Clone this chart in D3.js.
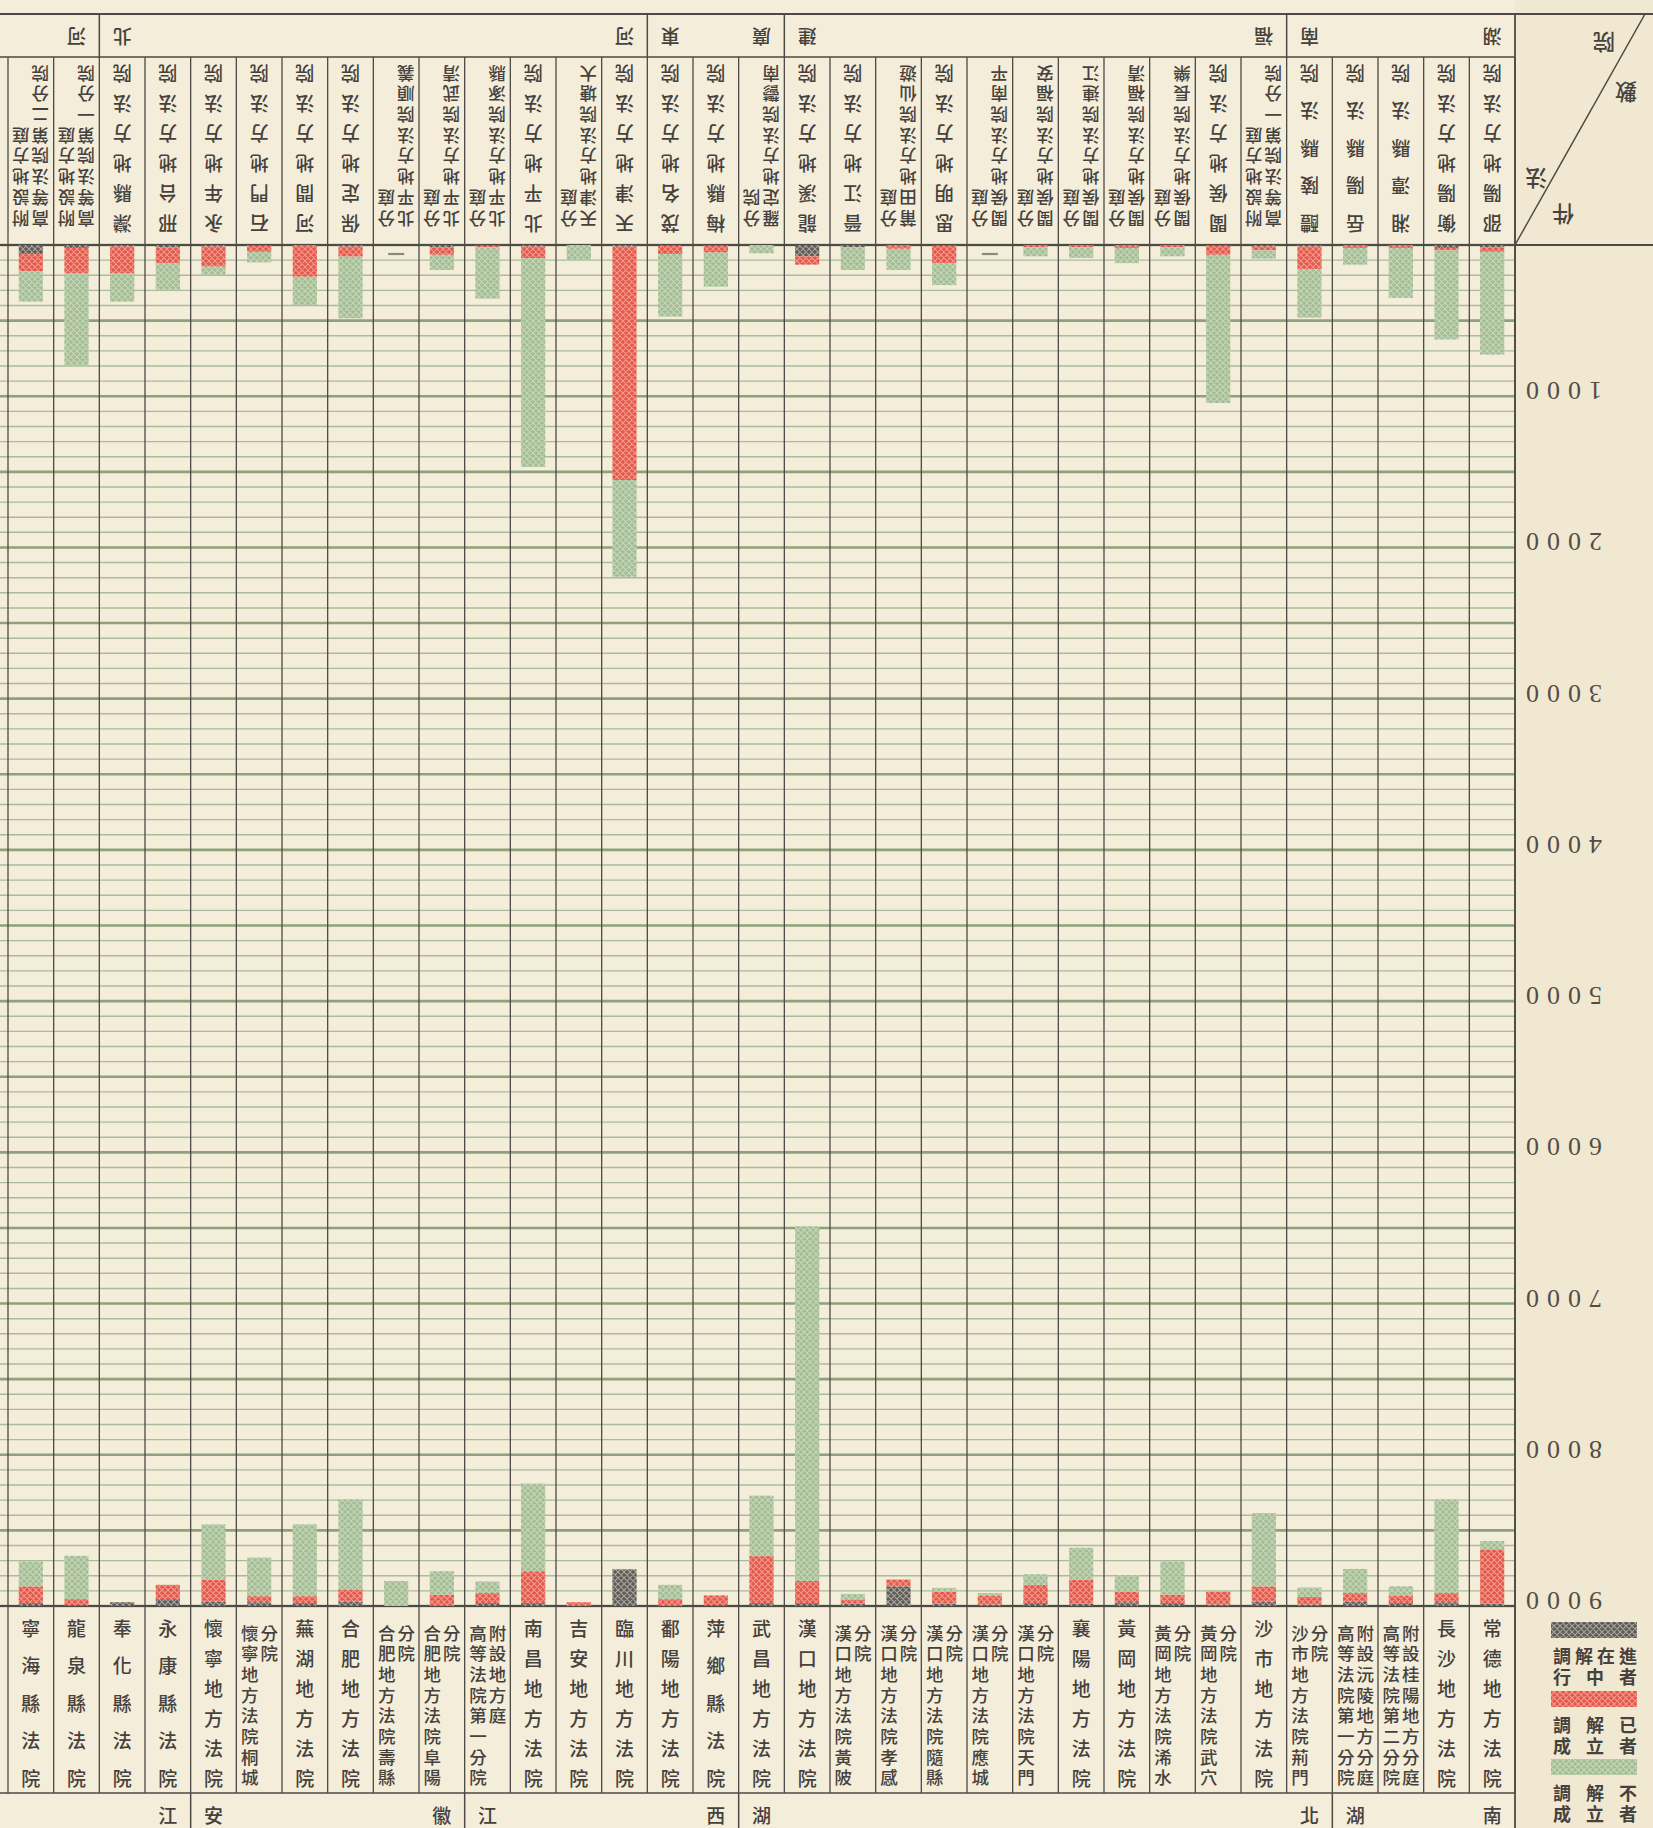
<!DOCTYPE html>
<html><head><meta charset="utf-8">
<script src="https://cdn.jsdelivr.net/npm/d3@7"></script>
<style>
html,body{margin:0;padding:0;background:#f2ecd9;}
svg{display:block;}
</style></head><body>
<svg id="c" width="1653" height="1828"></svg>
<script>
// ---------------- DATA ----------------
const seriesKeys = ["inProgress", "settled", "failed"];
const legendLabels = [["調解在進", "行中者"], ["調解已", "成立者"], ["調解不", "成立者"]];
const tickValues = [1000, 2000, 3000, 4000, 5000, 6000, 7000, 8000, 9000];
const cornerChars = ["院", "數", "法", "件"];

// lower panel (upright), left to right
const lowerCourts = ["寧海縣法院", "龍泉縣法院", "奉化縣法院", "永康縣法院", "懷寧地方法院",
  "分院|懷寧地方法院桐城", "蕪湖地方法院", "合肥地方法院", "分院|合肥地方法院壽縣", "分院|合肥地方法院阜陽",
  "附設地方庭|高等法院第一分院", "南昌地方法院", "吉安地方法院", "臨川地方法院", "鄱陽地方法院", "萍鄉縣法院",
  "武昌地方法院", "漢口地方法院", "分院|漢口地方法院黃陂", "分院|漢口地方法院孝感", "分院|漢口地方法院隨縣",
  "分院|漢口地方法院應城", "分院|漢口地方法院天門", "襄陽地方法院", "黃岡地方法院", "分院|黃岡地方法院浠水",
  "分院|黃岡地方法院武穴", "沙市地方法院", "分院|沙市地方法院荊門", "附設沅陵地方分庭|高等法院第一分院",
  "附設桂陽地方分庭|高等法院第二分院", "長沙地方法院", "常德地方法院"];
const lowerInProgress = [20,5,25,45,30,25,20,30,0,0,20,20,0,240,0,5,20,20,15,130,15,10,20,15,25,20,10,30,10,30,20,25,15];
const lowerSettled    = [110,40,0,95,145,40,45,80,0,75,65,210,25,5,45,65,310,145,25,45,80,60,120,160,70,55,85,100,50,55,50,60,360];
const lowerFailed     = [165,287,0,0,365,255,475,595,165,155,77,580,0,0,95,0,400,2345,40,0,25,15,70,210,110,220,0,485,62,160,60,620,55];
const lowerRegions = [["浙江", -3, 3], ["安徽", 4, 9], ["江西", 10, 15], ["湖北", 16, 28], ["湖南", 29, 32]];

// upper panel (printed upside down), in its own left-to-right order
const upperCourts = ["邵陽地方法院", "衡陽地方法院", "湘潭縣法院", "岳陽縣法院", "醴陵縣法院",
  "附設地方庭|高等法院第一分院", "閩侯地方法院", "分庭|閩侯地方法院長樂", "分庭|閩侯地方法院福清",
  "分庭|閩侯地方法院連江", "分庭|閩侯地方法院福安", "分庭|閩侯地方法院南平", "思明地方法院",
  "分庭|莆田地方法院仙遊", "晉江地方法院", "龍溪地方法院", "分院|羅定地方法院鬱南", "梅縣地方法院",
  "茂名地方法院", "天津地方法院", "分庭|天津地方法院塘大", "北平地方法院", "分庭|北平地方法院涿縣",
  "分庭|北平地方法院武清", "分庭|北平地方法院順義", "保定地方法院", "河間地方法院", "石門地方法院",
  "永年地方法院", "邢台地方法院", "灤縣地方法院", "附設地方庭|高等法院第一分院", "附設地方庭|高等法院第二分院"];
const upperInProgress = [15,20,0,0,10,10,5,0,0,0,0,0,5,0,15,75,0,5,5,10,0,10,5,15,0,10,0,5,10,15,10,20,60];
const upperSettled    = [30,15,20,20,150,25,60,15,20,15,15,0,115,25,0,55,0,45,55,1544,0,78,10,50,0,67,210,40,133,105,175,165,115];
const upperFailed     = [680,590,330,110,320,55,980,60,100,70,60,0,145,140,150,0,55,226,414,640,100,1380,340,100,0,408,187,70,55,176,190,610,200];
const upperRegions = [["湖南", 0, 4], ["福建", 5, 15], ["廣東", 16, 18], ["河北", 19, 30], ["河南", 31, 35]];

// ---------------- LAYOUT ----------------
const W = 1653, H = 1828;
const X0 = 8, X1 = 1515;           // plot band range
const BASE = 1606, TOP = 245;      // panel baseline / far end
const LAB_BOT = 1793, REG_BOT = 1837;
const TEXT = "#46413c", LINE = "#4d4944";
const CJK = "'Noto Sans CJK TC','Noto Sans CJK JP',sans-serif";

const svg = d3.select("#c");
svg.append("rect").attr("width", W).attr("height", H).attr("fill", "#f3edda");
svg.append("rect").attr("x", X1).attr("y", 0).attr("width", W - X1).attr("height", H).attr("fill", "#f1e8d1");

const defs = svg.append("defs");
function hatch(id, base, line) {
  const p = defs.append("pattern").attr("id", id).attr("patternUnits", "userSpaceOnUse")
    .attr("width", 6).attr("height", 6);
  p.append("rect").attr("width", 6).attr("height", 6).attr("fill", base);
  p.append("path").attr("d", "M0,0L6,6M6,0L0,6M-1,5L1,7M5,-1L7,1").attr("stroke", line).attr("stroke-width", 1.1);
}
hatch("pGray", "#5e5b57", "#aaa59d");
hatch("pRed", "#e4584b", "#f39a8c");
hatch("pGreen", "#a3bd94", "#c7d8ba");
const fills = { inProgress: "url(#pGray)", settled: "url(#pRed)", failed: "url(#pGreen)" };

const n = lowerCourts.length;
const x = d3.scaleBand().domain(d3.range(n)).range([X0, X1]).paddingInner(0.47).paddingOuter(0.235);
const step = x.step();
const colEdge = k => X0 + k * step;
const colMid = k => X0 + (k + 0.5) * step;
const y = d3.scaleLinear().domain([0, 9000]).range([BASE, TOP]);

// ---------- grid ----------
const grid = svg.append("g");
d3.range(0, 9001, 100).forEach(v => {
  const major = v % 500 === 0;
  grid.append("line").attr("x1", 0).attr("x2", X1).attr("y1", y(v)).attr("y2", y(v))
    .attr("stroke", major ? "#8da27a" : "#aabb98").attr("stroke-width", major ? 2.6 : 1.4);
});

// column lines
d3.range(n + 1).forEach(k => {
  svg.append("line").attr("x1", colEdge(k)).attr("x2", colEdge(k)).attr("y1", 57).attr("y2", LAB_BOT)
    .attr("stroke", LINE).attr("stroke-width", 1.3);
});

// frame lines
[[14, 0, W, 1.8], [57, 0, X1, 1.6], [245, 0, W, 1.8], [BASE, 0, X1, 1.8], [LAB_BOT, 0, X1, 1.6]].forEach(([yy, a, b, w]) => {
  svg.append("line").attr("x1", a).attr("x2", b).attr("y1", yy).attr("y2", yy).attr("stroke", LINE).attr("stroke-width", w);
});
svg.append("line").attr("x1", X1).attr("x2", X1).attr("y1", 14).attr("y2", H).attr("stroke", LINE).attr("stroke-width", 1.8);

// a vertical column of characters, one text per character
function charColumn(g, xPos, y0, pitch, chars, fs) {
  chars.forEach((ch, k) => g.append("text").attr("x", xPos).attr("y", y0 + k * pitch)
    .attr("font-size", fs).attr("font-weight", 500).text(ch));
}

// ---------- panel drawing ----------
function drawPanel(g, courts, a, b, c, regions) {
  const rows = courts.map((name, i) => ({ i, name, inProgress: a[i], settled: b[i], failed: c[i] }));
  const stacked = d3.stack().keys(seriesKeys)(rows);
  stacked.forEach(layer => {
    g.append("g").selectAll("rect").data(layer).join("rect")
      .attr("x", d => x(d.data.i)).attr("width", x.bandwidth())
      .attr("y", d => y(d[1])).attr("height", d => Math.max(0, y(d[0]) - y(d[1])))
      .attr("fill", fills[layer.key]);
  });
  // no-case marker
  rows.filter(r => r.inProgress + r.settled + r.failed === 0).forEach(r => {
    g.append("line").attr("x1", colMid(r.i) - 8).attr("x2", colMid(r.i) + 8)
      .attr("y1", y(0) - 9).attr("y2", y(0) - 9).attr("stroke", "#8a8a80").attr("stroke-width", 2.2);
  });
  // labels
  const lg = g.append("g").attr("font-family", CJK).attr("fill", TEXT)
    .attr("text-anchor", "middle").attr("dominant-baseline", "central");
  rows.forEach(r => {
    const cx = colMid(r.i);
    const parts = r.name.split("|");
    if (parts.length === 1) {
      const chars = [...parts[0]];
      const first = 1627, last = 1777;
      charColumn(lg, cx, first, (last - first) / (chars.length - 1), chars, 19);
    } else {
      const [right, left] = parts;
      charColumn(lg, cx + 10, 1632, 20.7, [...right], 17.5);
      charColumn(lg, cx - 9.5, 1632, 20.7, [...left], 17.5);
    }
  });
  // regions: first character over the first court, last over the last court
  regions.forEach(([name, f, l], j) => {
    const chars = [...name];
    [[f, chars[0]], [l, chars[chars.length - 1]]].forEach(([idx, ch]) => {
      if (idx < 0 || idx >= n) return;   // lies beyond the sheet
      lg.append("text").attr("x", colMid(idx)).attr("y", 1814).attr("font-size", 19).attr("font-weight", 500).text(ch);
    });
    if (j < regions.length - 1) {
      g.append("line").attr("x1", colEdge(l + 1)).attr("x2", colEdge(l + 1)).attr("y1", LAB_BOT).attr("y2", REG_BOT)
        .attr("stroke", LINE).attr("stroke-width", 1.5);
    }
  });
}

// lower (upright) panel
drawPanel(svg.append("g"), lowerCourts, lowerInProgress, lowerSettled, lowerFailed, lowerRegions);

// upper panel: same layout rotated by 180 degrees
const upper = svg.append("g").attr("transform", `rotate(180,${(X0 + X1) / 2},${(BASE + TOP) / 2})`);
drawPanel(upper, upperCourts, upperInProgress, upperSettled, upperFailed, upperRegions);

// value axis belongs to the upper panel
upper.append("g").attr("transform", `translate(${X0},0)`)
  .call(d3.axisLeft(y).tickValues(tickValues).tickSize(0).tickPadding(3).tickFormat(d3.format("d")))
  .call(gg => gg.select(".domain").remove())
  .call(gg => gg.selectAll("text").attr("dy", "0.52em").attr("fill", "#524d47")
    .attr("font-family", "'Liberation Serif','DejaVu Serif',serif").attr("font-size", 26)
    .attr("letter-spacing", 8));

// corner box with diagonal
svg.append("line").attr("x1", X1).attr("y1", 245).attr("x2", 1645).attr("y2", 14)
  .attr("stroke", LINE).attr("stroke-width", 1.5);
[[1604, 44], [1626, 94], [1536, 180], [1563, 216]].forEach(([px, py], k) => {
  svg.append("text").attr("x", px).attr("y", py).attr("font-family", CJK).attr("font-size", 22)
    .attr("font-weight", 500).attr("fill", TEXT).attr("text-anchor", "middle").attr("dominant-baseline", "central")
    .attr("transform", `rotate(180,${px},${py})`).text(cornerChars[k]);
});

// legend
const legY = [1622, 1691, 1759];
const keysFill = [fills.inProgress, fills.settled, fills.failed];
legY.forEach((ly, k) => {
  svg.append("rect").attr("x", 1551).attr("y", ly).attr("width", 86).attr("height", 16).attr("fill", keysFill[k]);
  legendLabels[k].forEach((row, r) => {
    const chars = [...row];
    const xs = chars.map((_, i) => 1562 + i * (66 / (chars.length - 1)));
    svg.append("text").attr("font-family", CJK).attr("font-size", 18).attr("font-weight", 700)
      .attr("fill", TEXT).attr("text-anchor", "middle").attr("dominant-baseline", "central")
      .attr("x", xs.join(" ")).attr("y", ly + 33 + r * 21).text(row);
  });
});
</script>
</body></html>
